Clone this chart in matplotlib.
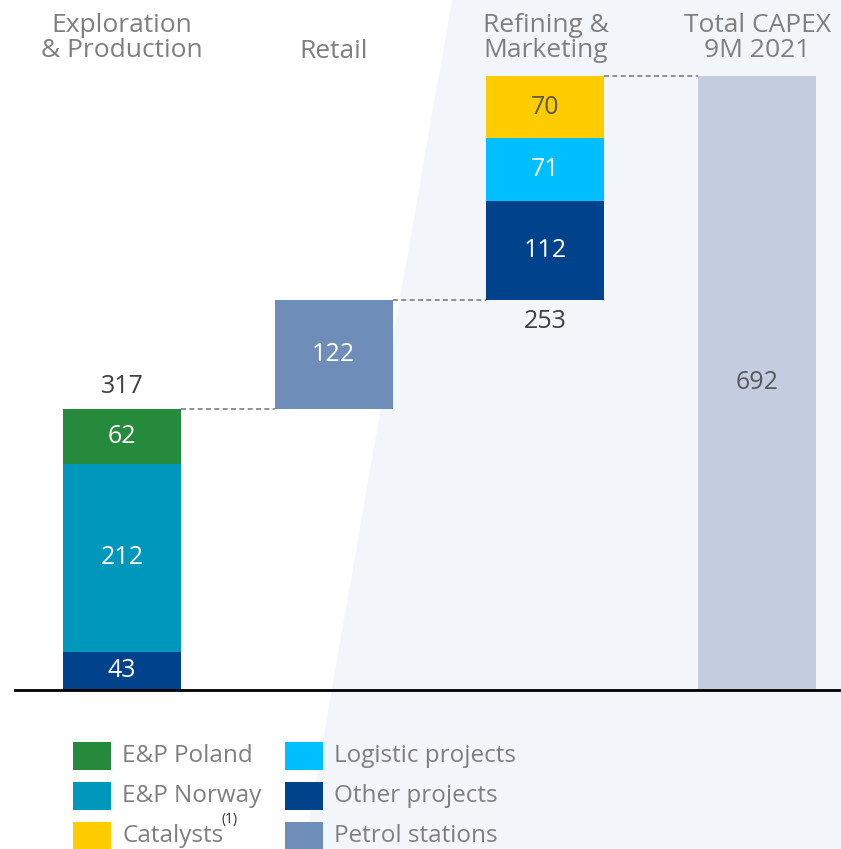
import matplotlib
matplotlib.use("Agg")
import matplotlib.pyplot as plt
from matplotlib.patches import Polygon, Rectangle

plt.rcParams['font.family'] = ['Open Sans', 'DejaVu Sans']

# data
categories = ['Exploration\n& Production', 'Retail', 'Refining &\nMarketing', 'Total CAPEX\n9M 2021']
ep_labels = ['Other projects', 'E&P Norway', 'E&P Poland']
ep_values = [43, 212, 62]
retail_values = [122]
rm_labels = ['Other projects', 'Logistic projects', 'Catalysts']
rm_values = [112, 71, 70]
total_value = 692

COLORS = {
    'E&P Poland': '#268A3D',
    'E&P Norway': '#0097BD',
    'Catalysts': '#FFCC00',
    'Logistic projects': '#00BFFF',
    'Other projects': '#00438C',
    'Petrol stations': '#6E8DB9',
    'Total': '#C3CDDF',
}
TEXT_DARK = '#595959'
CAT_GRAY = '#7F7F7F'

W, H = 841, 849
fig = plt.figure(figsize=(W / 100, H / 100), dpi=100)
ax = fig.add_axes([0, 0, 1, 1])
ax.set_xlim(-0.576, 3.396)
ax.set_ylim(-179.2, 777.6)
ax.axis('off')

# light background shape on the right
ax.add_patch(Polygon([(452 / W, 1), (1, 1), (1, 0), (304 / W, 0)], closed=True,
                     transform=ax.transAxes, facecolor='#F2F5FA', edgecolor='none', zorder=0))

bw = 0.557

def stack(x, values, names, base=0):
    b = base
    for v, n in zip(values, names):
        c = COLORS[n]
        ax.bar(x, v, bw, bottom=b, color=c, zorder=2)
        tc = TEXT_DARK if n == 'Catalysts' else 'white'
        ax.text(x, b + v / 2, str(v), ha='center', va='center', fontsize=18, color=tc, zorder=3)
        b += v
    return b

ep_total = stack(0, ep_values, ep_labels)
retail_top = stack(1, retail_values, ['Petrol stations'], base=ep_total)
rm_top = stack(2, rm_values, rm_labels, base=retail_top)
ax.bar(3, total_value, bw, color=COLORS['Total'], zorder=2)
ax.text(3, total_value / 2, str(total_value), ha='center', va='center', fontsize=18,
        color=TEXT_DARK, zorder=3)

# subtotals
ax.text(0, ep_total + 25, str(ep_total), ha='center', va='center', fontsize=18,
        color='#3F3F3F', zorder=3)
rm_sum = sum(rm_values)
ax.text(2, retail_top - 24, str(rm_sum), ha='center', va='center', fontsize=18,
        color='#3F3F3F', zorder=3)

# connectors
for x0, y in [(0, ep_total), (1, retail_top), (2, rm_top)]:
    ax.plot([x0 + bw / 2, x0 + 1 - bw / 2], [y, y], color='#7F7F7F', lw=1.2,
            ls=(0, (3, 2)), zorder=1)

# baseline
ax.plot([15 / W, 1], [(H - 690) / H] * 2, transform=ax.transAxes, color='black', lw=2, zorder=4)

# category headers
for i, cat in enumerate(categories):
    n = cat.count('\n') + 1
    yc = 51 if n == 1 else 38
    ax.text(i, 1 - yc / H, cat, transform=ax.get_xaxis_transform(), ha='center', va='center',
            fontsize=19, color=CAT_GRAY, linespacing=0.95)

# legend
legend_items = [('E&P Poland', 73, 756), ('E&P Norway', 73, 796), ('Catalysts', 73, 836),
                ('Logistic projects', 285, 756), ('Other projects', 285, 796),
                ('Petrol stations', 285, 836)]
for name, px, py in legend_items:
    fig.add_artist(Rectangle((px / W, 1 - (py + 14) / H), 38 / W, 28 / H,
                             transform=fig.transFigure, facecolor=COLORS[name], edgecolor='none'))
    fig.text((px + 49) / W, 1 - py / H, name, ha='left', va='center', fontsize=17.5,
             color=CAT_GRAY)
fig.text(222 / W, 1 - 819 / H, '(1)', ha='left', va='center', fontsize=10, color='#333333')

fig.savefig('out.png', dpi=100)
